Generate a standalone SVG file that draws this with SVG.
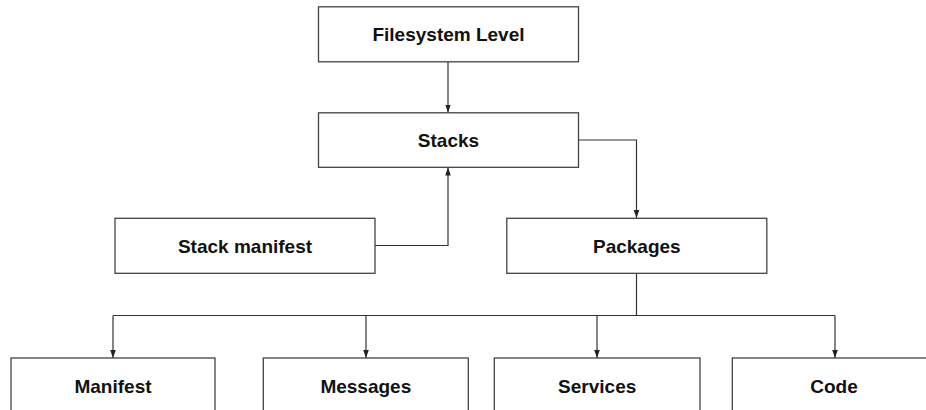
<svg xmlns="http://www.w3.org/2000/svg" width="926" height="410" viewBox="0 0 926 410">
<defs>
<style>
.box{fill:#fff;stroke:#444;stroke-width:1.3}
.lbl{font-family:"Liberation Sans",Arial,sans-serif;font-weight:bold;font-size:19px;fill:#111;text-anchor:middle}
.edge{fill:none;stroke:#333;stroke-width:1.2}
</style>
<marker id="arr" viewBox="0 0 8 8" refX="8" refY="4" markerWidth="8" markerHeight="8" markerUnits="userSpaceOnUse" orient="auto">
<path d="M0,1.2 L8,4 L0,6.8 Z" fill="#222"/>
</marker>
</defs>
<rect width="926" height="410" fill="#fff"/>
<g id="connectors">
<path class="edge" d="M448,62 V112.5" marker-end="url(#arr)"/>
<path class="edge" d="M375,245.5 H448 V167.5" marker-end="url(#arr)"/>
<path class="edge" d="M578,140 H636.5 V218" marker-end="url(#arr)"/>
<path class="edge" d="M636.5,273 V315.5"/>
<path class="edge" d="M113,315.5 H835"/>
<path class="edge" d="M113,315.5 V358" marker-end="url(#arr)"/>
<path class="edge" d="M366,315.5 V358" marker-end="url(#arr)"/>
<path class="edge" d="M597,315.5 V358" marker-end="url(#arr)"/>
<path class="edge" d="M835,315.5 V358" marker-end="url(#arr)"/>
</g>
<g id="filesystem"><rect class="box" x="318.5" y="6.8" width="260" height="55"/><text class="lbl" x="448.5" y="41">Filesystem Level</text></g>
<g id="stacks"><rect class="box" x="318.5" y="112.8" width="260" height="54.5"/><text class="lbl" x="448.5" y="147">Stacks</text></g>
<g id="stack-manifest"><rect class="box" x="115" y="218.3" width="260" height="55"/><text class="lbl" x="245" y="252.5">Stack manifest</text></g>
<g id="packages"><rect class="box" x="506.8" y="218.3" width="260" height="55"/><text class="lbl" x="636.8" y="252.5">Packages</text></g>
<g id="manifest"><rect class="box" x="11" y="358" width="204" height="60"/><text class="lbl" x="113" y="392.5">Manifest</text></g>
<g id="messages"><rect class="box" x="263.3" y="358" width="205" height="60"/><text class="lbl" x="365.8" y="392.5">Messages</text></g>
<g id="services"><rect class="box" x="494.3" y="358" width="205.7" height="60"/><text class="lbl" x="597.2" y="392.5">Services</text></g>
<g id="code"><rect class="box" x="732.3" y="358" width="205" height="60"/><text class="lbl" x="834" y="392.5">Code</text></g>
</svg>
